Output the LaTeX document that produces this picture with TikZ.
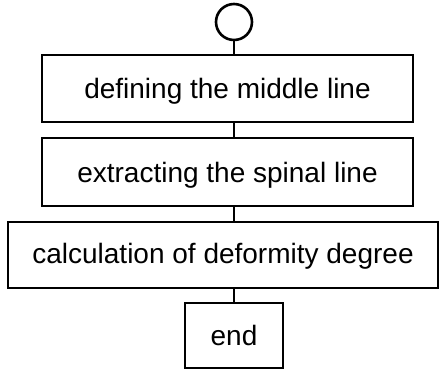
\documentclass[tikz,border=0pt]{standalone}
\usepackage{fontspec}
\setmainfont{Liberation Sans}
\begin{document}
\begin{tikzpicture}[x=1pt,y=-1pt,
  stepbox/.style={draw, rectangle, line width=2.3pt, inner sep=0pt,
    font=\fontsize{28}{30}\selectfont, text height=20pt, text depth=0pt},
  link/.style={draw, line width=2.3pt}]
\useasboundingbox (0,0) rectangle (440,373);
% start terminal
\node[draw, circle, minimum size=36pt, inner sep=0pt, line width=2.6pt] (start) at (234,22) {};
% process steps
\node[stepbox, minimum width=371pt, minimum height=67pt] (s1) at (227.5,88.5) {defining the middle line};
\node[stepbox, minimum width=371pt, minimum height=68pt] (s2) at (227.5,172) {extracting the spinal line};
\node[stepbox, minimum width=430pt, minimum height=66pt, text depth=3pt] (s3) at (223,255) {calculation of deformity degree};
\node[stepbox, minimum width=98pt, minimum height=65pt] (fin) at (234,335.5) {end};
% connectors
\draw[link] (start.south) -- (start.south |- s1.north);
\draw[link] (s1.south -| start) -- (s2.north -| start);
\draw[link] (s2.south -| start) -- (s3.north -| start);
\draw[link] (s3.south -| start) -- (fin.north -| start);
\end{tikzpicture}
\end{document}
